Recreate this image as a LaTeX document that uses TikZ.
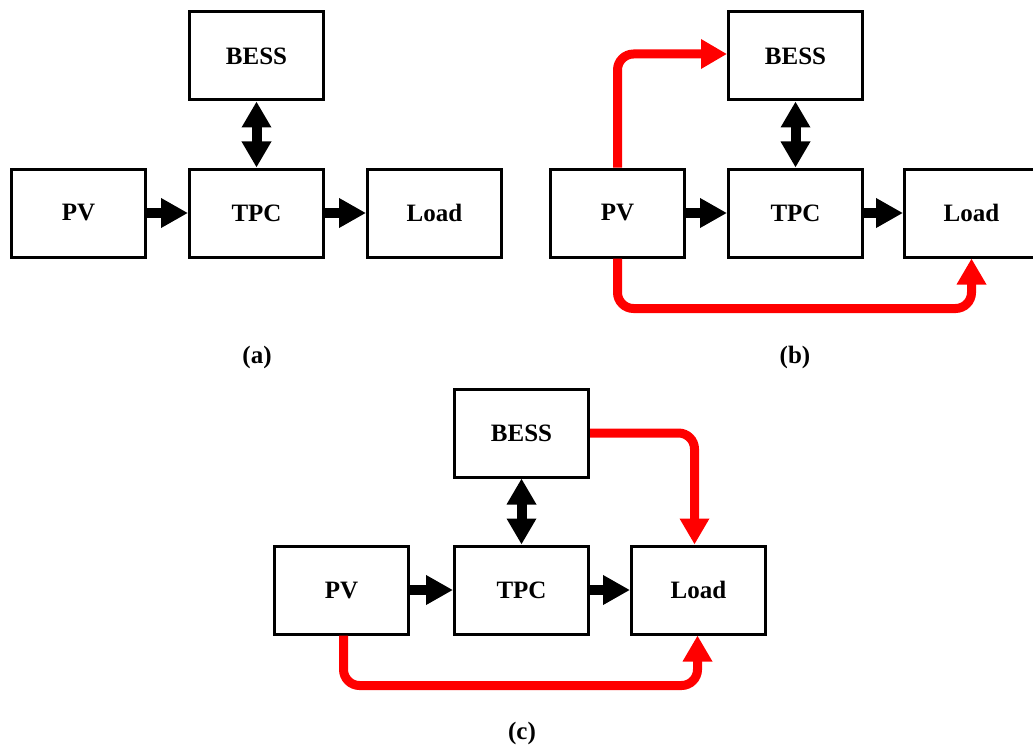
\documentclass[tikz,border=0pt]{standalone}
\usepackage{fontspec}
\setmainfont{Liberation Serif}
\usetikzlibrary{arrows.meta}
\tikzset{
  blk/.style={draw=black, line width=3pt, minimum width=134pt, minimum height=88pt, inner sep=0pt, font=\fontsize{25}{29}\selectfont\bfseries, fill=white},
  lbl/.style={font=\fontsize{25}{29}\selectfont\bfseries, inner sep=0pt},
  bigarrow/.style={line width=10pt, -{Triangle[length=27pt,width=28pt]}},
  dblarrow/.style={line width=10pt, {Triangle[length=26pt,width=28pt]}-{Triangle[length=26pt,width=28pt]}},
  redarrow/.style={red, line width=9pt, rounded corners=16pt, -{Triangle[length=26pt,width=28pt]}},
}
\begin{document}
\begin{tikzpicture}[x=1pt,y=-1pt]
\useasboundingbox (0,0) rectangle (1033,749);
% (a)
\node[blk] (bessa) at (256.5,56) {BESS};
\node[blk] (pva) at (78.5,213) {PV};
\node[blk] (tpca) at (256.5,213) {TPC};
\node[blk] (loada) at (434.5,213) {Load};
\draw[bigarrow] (pva) -- (tpca);
\draw[bigarrow] (tpca) -- (loada);
\draw[dblarrow] (bessa) -- (tpca);
\node[lbl] (la) at (257,357) {(a)};
% (b)
\node[blk] (bessb) at (795.5,56) {BESS};
\node[blk] (pvb) at (617.5,213) {PV};
\node[blk] (tpcb) at (795.5,213) {TPC};
\node[blk] (loadb) at (971.5,213) {Load};
\draw[bigarrow] (pvb) -- (tpcb);
\draw[bigarrow] (tpcb) -- (loadb);
\draw[dblarrow] (bessb) -- (tpcb);
\draw[redarrow] (pvb.north) |- ([yshift=2pt]bessb.west);
\draw[redarrow] (pvb.south) -- ++(0,50) -| (loadb.south);
\node[lbl] (lb) at (795,357) {(b)};
% (c)
\node[blk] (bessc) at (521.5,433) {BESS};
\node[blk] (pvc) at (341.5,590) {PV};
\node[blk] (tpcc) at (521.5,590) {TPC};
\node[blk] (loadc) at (698.5,590) {Load};
\draw[bigarrow] (pvc) -- (tpcc);
\draw[bigarrow] (tpcc) -- (loadc);
\draw[dblarrow] (bessc) -- (tpcc);
\draw[redarrow] (bessc.east) -| ([xshift=-4pt]loadc.north);
\draw[redarrow] ([xshift=2pt]pvc.south) -- ++(0,50) -| ([xshift=-1pt]loadc.south);
\node[lbl] (lc) at (522,733) {(c)};
\end{tikzpicture}
\end{document}
